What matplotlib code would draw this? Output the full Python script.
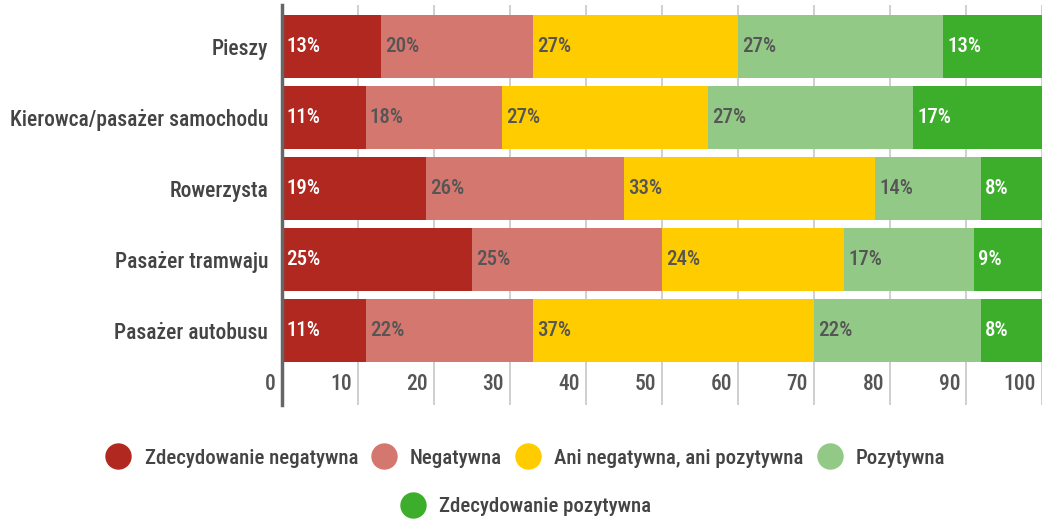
import matplotlib
matplotlib.use("Agg")
import matplotlib.pyplot as plt
from matplotlib.lines import Line2D
from matplotlib import transforms
import numpy as np

plt.rcParams["font.family"] = ["Roboto Condensed", "Liberation Sans Narrow", "DejaVu Sans"]

categories = ["Pieszy", "Kierowca/pasażer samochodu", "Rowerzysta", "Pasażer tramwaju", "Pasażer autobusu"]
series_names = ["Zdecydowanie negatywna", "Negatywna", "Ani negatywna, ani pozytywna",
                "Pozytywna", "Zdecydowanie pozytywna"]
zdec_neg = [13, 11, 19, 25, 11]
negatywna = [20, 18, 26, 25, 22]
neutralna = [27, 27, 33, 24, 37]
pozytywna = [27, 27, 14, 17, 22]
zdec_poz = [13, 17, 8, 9, 8]
x_ticks = [0, 10, 20, 30, 40, 50, 60, 70, 80, 90, 100]

colors = ["#b0281f", "#d4776f", "#ffcc00", "#93c987", "#3dae2b"]
label_colors = ["white", "#555555", "#555555", "#555555", "white"]
series = [zdec_neg, negatywna, neutralna, pozytywna, zdec_poz]

fig = plt.figure(figsize=(10.45, 5.19), dpi=100)
ax = fig.add_axes([282 / 1045, 1 - 405 / 519, 760 / 1045, 400 / 519])

y = np.arange(len(categories))
left = np.zeros(len(categories))
for vals, col, tcol in zip(series, colors, label_colors):
    vals = np.array(vals, dtype=float)
    ax.barh(y, vals, left=left, height=0.88, color=col, zorder=2)
    for yi, (l, v) in enumerate(zip(left, vals)):
        ax.annotate(f"{int(v)}%", (l, yi), xytext=(3, 0), textcoords="offset points",
                    ha="left", va="center", fontsize=15, fontweight="medium", color=tcol, zorder=3)
    left += vals

ax.set_xlim(0, 100)
ax.set_ylim(5.05, -0.585)

for t in x_ticks[1:]:
    ax.axvline(t, color="#cccccc", lw=1.3, zorder=1)
for s in ["top", "right", "bottom"]:
    ax.spines[s].set_visible(False)
ax.spines["left"].set_color("#666666")
ax.spines["left"].set_linewidth(2.5)
ax.spines["left"].set_zorder(4)

ax.set_xticks([])
ax.set_yticks(y)
ax.set_yticklabels(categories, fontsize=15.5, color="#444444", fontweight="medium")
ax.tick_params(axis="y", length=0, pad=10)

offset = transforms.offset_copy(ax.transData, fig=fig, x=-6, y=0, units="dots")
for t in x_ticks:
    ax.text(t, 4.76, str(t), transform=offset, ha="right", va="center",
            fontsize=15.5, color="#555555", fontweight="medium")

handles = [Line2D([], [], marker="o", linestyle="none", markersize=18,
                  markerfacecolor=c, markeredgecolor=c) for c in colors]
leg_kw = dict(frameon=False, handlelength=1.2, handletextpad=0.65, columnspacing=0.65,
              prop={"size": 15, "weight": "medium"}, labelcolor="#444444")
leg1 = fig.legend(handles[:4], series_names[:4], loc="center",
                  bbox_to_anchor=(0.503, 1 - 458 / 519), ncol=4, **leg_kw)
leg2 = fig.legend(handles[4:], series_names[4:], loc="center",
                  bbox_to_anchor=(0.503, 1 - 507 / 519), ncol=1, **leg_kw)

fig.savefig("out.png", dpi=100)
